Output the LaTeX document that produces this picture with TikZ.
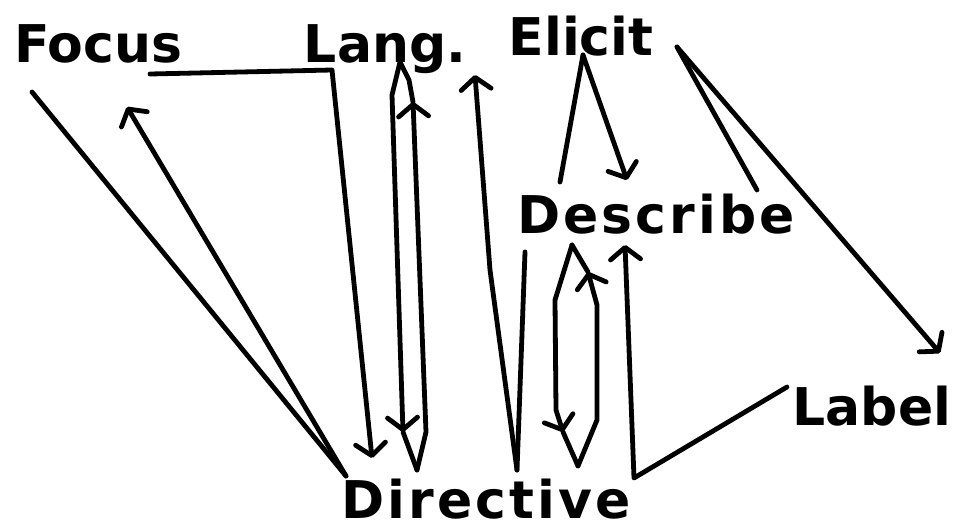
\documentclass[tikz,border=0pt]{standalone}
\usepackage{fontspec}
\newfontfamily\sketchfont{DejaVu Sans}
\newfontfamily\widefont{DejaVu Sans}[LetterSpace=6]
\usetikzlibrary{arrows.meta}

\begin{document}
\begin{tikzpicture}[
    x=0.5pt, y=-0.5pt,
    word/.style={font=\sketchfont\bfseries\fontsize{26}{28}\selectfont, inner sep=0pt, anchor=base},
    wideword/.style={word, font=\widefont\bfseries\fontsize{26}{28}\selectfont},
    link/.style={line width=2.4pt, line cap=round, line join=round},
    arrow/.style={link, -{Straight Barb[length=6pt, width=15pt, round]}}
]
\useasboundingbox (0,0) rectangle (954,530);

% Words
\node[word] (focus) at (98,62) {Focus};
\node[word] (lang) at (385,62) {Lang.};
\node[word] (elicit) at (581,55) {Elicit};
\node[wideword] (describe) at (656,233) {Describe};
\node[word] (lbl) at (872,425) {Label};
\node[wideword] (directive) at (486,518) {Directive};

% Where the lines meet the words
\coordinate (focus-out) at (32,92);
\coordinate (focus-in) at (127,107);
\coordinate (focus-bar) at (150,74);
\coordinate (bar-corner) at (332,70);
\coordinate (lang-out) at (400,62);
\coordinate (lang-in) at (413,102);
\coordinate (top-g) at (475,75);
\coordinate (elicit-out) at (583,55);
\coordinate (elicit-r) at (677,47);
\coordinate (desc-a) at (525,252);
\coordinate (desc-top) at (572,245);
\coordinate (desc-in) at (588,272);
\coordinate (desc-b) at (625,245);
\coordinate (desc-c) at (560,182);
\coordinate (desc-d) at (627,180);
\coordinate (desc-e) at (757,190);
\coordinate (lbl-in) at (787,387);
\coordinate (lbl-b) at (940,353);
\coordinate (corner-l) at (634,478);
\coordinate (dir-a) at (346,476);
\coordinate (dir-c) at (372,458);
\coordinate (dir-d) at (403,432);
\coordinate (dir-e) at (417,470);
\coordinate (dir-f) at (517,470);
\coordinate (dir-g) at (563,432);
\coordinate (dir-h) at (578,466);

% Focus
\draw[link] (focus-out) -- (dir-a);
\draw[arrow] (dir-a) -- (focus-in);
\draw[arrow] (focus-bar) -- (bar-corner) -- (dir-c);

% Lang.
\draw[arrow] (lang-out) -- (392,95) -- (dir-d);
\draw[link] (dir-d) -- (dir-e);
\draw[arrow] (dir-e) -- (426,432) -- (lang-in);
\draw[link] (lang-in) -- (409,80) -- (lang-out);
\draw[arrow] (dir-f) -- (490,270) -- (top-g);

% Describe
\draw[link] (desc-a) -- (dir-f);
\draw[arrow] (desc-top) -- (555,300) -- (556,410) -- (dir-g);
\draw[link] (dir-g) -- (dir-h);
\draw[arrow] (dir-h) -- (597,420) -- (597,305) -- (desc-in);
\draw[link] (desc-in) -- (desc-top);

% Label
\draw[arrow] (lbl-in) -- (corner-l) -- (desc-b);

% Elicit
\draw[link] (desc-c) -- (elicit-out);
\draw[arrow] (elicit-out) -- (desc-d);
\draw[link] (elicit-r) -- (desc-e);
\draw[arrow] (elicit-r) -- (lbl-b);

\end{tikzpicture}
\end{document}
